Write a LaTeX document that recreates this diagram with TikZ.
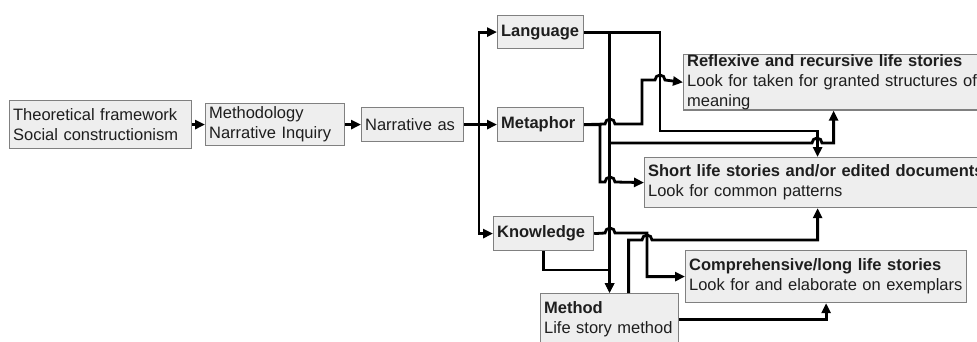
\documentclass[tikz,border=0pt]{standalone}
\usepackage{fontspec}
\setmainfont{Liberation Sans}
\usetikzlibrary{arrows.meta}
\definecolor{boxfill}{HTML}{EEEEEE}
\definecolor{boxline}{HTML}{808080}
\definecolor{ink}{HTML}{1E1E1E}

\begin{document}
\begin{tikzpicture}[
      x=1pt, y=-1pt,
      box/.style={draw=boxline, fill=boxfill, line width=1.2pt, anchor=north west,
        align=left, inner xsep=3.5pt, inner ysep=0pt, text=ink,
        font=\fontsize{16.5}{20}\selectfont},
      link/.style={line width=2.8pt, -{Triangle[length=10pt, width=9pt]}}
    ]

    \path[use as bounding box, clip] (0,0) rectangle (977,341);

    \node[box, text width=175pt, minimum height=48pt] (theo) at (9,100) {Theoretical framework\\Social constructionism};
    \node[box, text width=132pt, minimum height=42pt] (meth) at (205,103) {Methodology\\Narrative Inquiry};
    \node[box, text width=95pt, minimum height=34pt] (narr) at (361,107) {Narrative as};
    \node[box, text width=79pt, minimum height=33pt] (lang) at (497,15) {\textbf{Language}};
    \node[box, text width=79pt, minimum height=34pt] (meta) at (497,107) {\textbf{Metaphor}};
    \node[box, text width=93pt, minimum height=34pt] (know) at (493,216) {\textbf{Knowledge}};
    \node[box, text width=131pt, minimum height=52pt] (method) at (540,293) {\textbf{Method}\\Life story method};
    \node[box, text width=293pt, minimum height=52pt] (refl) at (683,54) {\textbf{Reflexive and recursive life stories}\\Look for taken for granted structures of\\meaning};
    \node[box, text width=339pt, minimum height=50pt] (short) at (644,157) {\textbf{Short life stories and/or edited documents}\\Look for common patterns};
    \node[box, text width=274pt, minimum height=52pt] (comp) at (685,250) {\textbf{Comprehensive/long life stories}\\Look for and elaborate on exemplars};

    \draw[link] (theo.east) -- (meth.west);
    \draw[link] (meth.east) -- (narr.west);
    \draw[link] (narr.east) -- (meta.west);
    \coordinate (fork) at (479,124);
    \draw[link] (fork) |- (lang.west);
    \draw[link] (fork) |- (know.west);

    \draw[link] (lang.east) -| (660,131) -| (short.north);
    \draw[link] (lang.east -| method.north) -- (method.north);
    \draw[link] (method.north |- 0,143) -- (812,143) arc[start angle=180, end angle=0, radius=5pt] -| (refl.south);

    \draw[link] (meta.east) -- (605,124) arc[start angle=180, end angle=0, radius=5pt] -- (642,124) -- (642,80)
      -- (655,80) arc[start angle=180, end angle=0, radius=5pt] -- (refl.west);
    \draw[link] (meta.east) -| (600,182) -- (605,182) arc[start angle=180, end angle=0, radius=5pt] -- (short.west);

    \draw[link] (know.east) -- (605,233) arc[start angle=180, end angle=0, radius=5pt] -- (647,233) |- (comp.west);
    \draw[link] (know.south) |- (method.north |- 0,270) -- (method.north);

    \draw[link] ([xshift=19pt]method.north) |- (642,240) arc[start angle=180, end angle=0, radius=5pt] -| (short.south);
    \draw[link] (method.east) -| (comp.south);

\end{tikzpicture}
\end{document}
